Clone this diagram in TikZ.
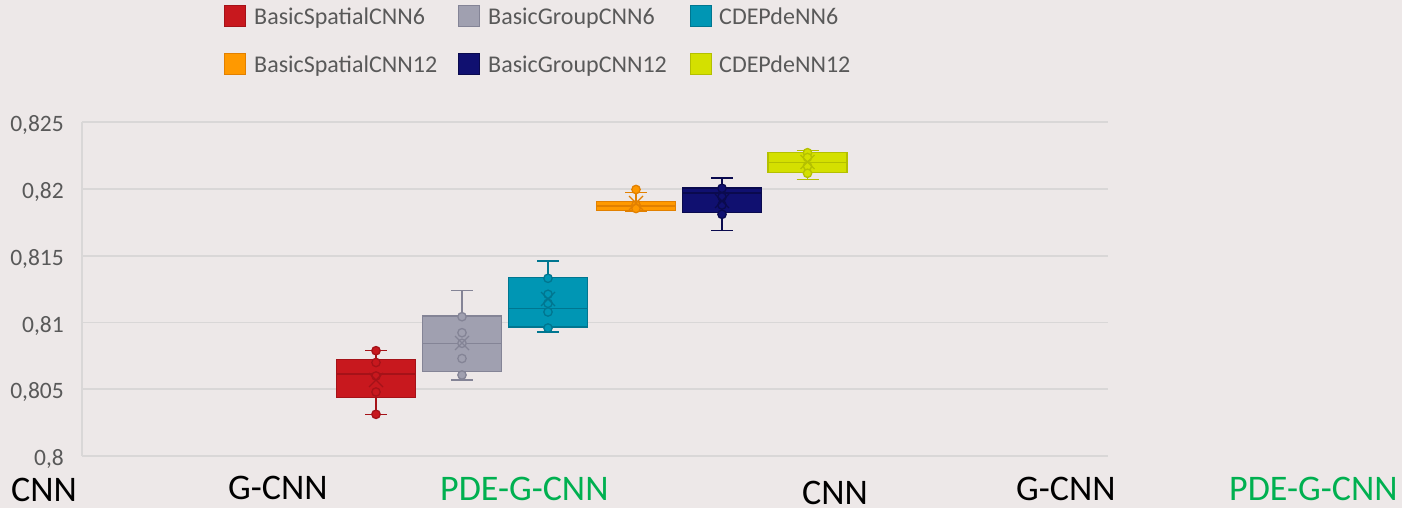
\documentclass[tikz,border=0pt]{standalone}
\usepackage{fontspec}
\setmainfont{Carlito}
\definecolor{bg}{RGB}{237,232,232}
\definecolor{gridc}{RGB}{217,215,215}
\definecolor{labc}{RGB}{89,89,89}
\definecolor{greenlab}{RGB}{0,176,80}
\definecolor{redF}{RGB}{200,24,30}
\definecolor{redD}{RGB}{165,18,24}
\definecolor{grayF}{RGB}{160,160,176}
\definecolor{grayD}{RGB}{132,132,150}
\definecolor{tealF}{RGB}{0,150,180}
\definecolor{tealD}{RGB}{0,118,144}
\definecolor{orF}{RGB}{255,153,0}
\definecolor{orD}{RGB}{226,128,0}
\definecolor{navyF}{RGB}{16,16,112}
\definecolor{navyD}{RGB}{10,10,78}
\definecolor{yelF}{RGB}{212,224,0}
\definecolor{yelD}{RGB}{180,192,0}
% box plot: centre x, box top, box bottom, median, upper cap, lower cap, colour prefix, mean, points
\newcommand\bxp[9]{%
  \draw[#7D, line width=1.5] (#1,#5) -- (#1,#2) (#1,#3) -- (#1,#6)
       (#1-11,#5) -- (#1+11,#5) (#1-11,#6) -- (#1+11,#6);
  \filldraw[fill=#7F, draw=#7D, line width=1.5] (#1-39.5,#2) rectangle (#1+39.5,#3);
  \draw[#7D, line width=1.5] (#1-39.5,#4) -- (#1+39.5,#4);
  \foreach \p in {#9} \filldraw[fill=#7F, draw=#7D, line width=1.3] (#1,\p) circle[radius=4.2];
  \draw[#7D, line width=1.3] (#1-7,#8-7) -- (#1+7,#8+7) (#1-7,#8+7) -- (#1+7,#8-7);
}
\tikzset{
  grid/.style={gridc, line width=1.5},
  ylab/.style={anchor=base east, inner sep=0, text=labc, font=\fontsize{23.5}{23.5}\selectfont},
  legtext/.style={anchor=base west, inner sep=0, text=labc, font=\fontsize{24}{24}\selectfont},
  legsq/.style={line width=1},
  cat/.style={anchor=base west, inner sep=0, font=\fontsize{36}{36}\selectfont},
}
\begin{document}
\begin{tikzpicture}[x=1pt, y=-1pt]
\fill[bg] (0,0) rectangle (1402,508);
\useasboundingbox (0,0) rectangle (1402,508);

% grid and axis
\foreach \y in {122,189,256,322.5,389,456} \draw[grid] (82,\y) -- (1108,\y);
\draw[grid] (82,122) -- (82,456);

% y-axis labels
\node[ylab] (y825) at (64,131.5) {0,825};
\node[ylab] (y820) at (64,198.5) {0,82};
\node[ylab] (y815) at (64,265.5) {0,815};
\node[ylab] (y810) at (64,332) {0,81};
\node[ylab] (y805) at (64,398.5) {0,805};
\node[ylab] (y800) at (64,465.5) {0,8};

% box plots
\bxp{376}{359.5}{397.5}{374}{350.7}{414.3}{red}{380}{350.7,362.5,376,392,414.3}
\bxp{462}{316}{371.7}{343.3}{290.7}{380}{gray}{343}{316.7,332.7,343.3,358.5,375}
\bxp{548}{277.7}{327}{308.3}{261}{332}{teal}{299}{278.3,294.3,303.3,312,328}
\bxp{636}{201.7}{210.5}{205.8}{192.5}{211}{or}{203}{189.5,205,208.5}
\bxp{722}{187.8}{212.3}{193}{177.8}{230.7}{navy}{201}{188.3,197,205,214.3}
\bxp{807.5}{152.3}{172.3}{162.3}{150.5}{179.3}{yel}{162}{152.7,157.5,166,173.3}

% legend
\filldraw[legsq, fill=redF, draw=redD] (224.5,6) rectangle (245.5,27);
\node[legtext] (l1) at (254,25) {BasicSpatialCNN6};
\filldraw[legsq, fill=grayF, draw=grayD] (458,6) rectangle (479,27);
\node[legtext] (l2) at (488,25) {BasicGroupCNN6};
\filldraw[legsq, fill=tealF, draw=tealD] (690,6) rectangle (711,27);
\node[legtext] (l3) at (719,25) {CDEPdeNN6};
\filldraw[legsq, fill=orF, draw=orD] (224.5,54) rectangle (245.5,75);
\node[legtext] (l4) at (254,73) {BasicSpatialCNN12};
\filldraw[legsq, fill=navyF, draw=navyD] (458,54) rectangle (479,75);
\node[legtext] (l5) at (488,73) {BasicGroupCNN12};
\filldraw[legsq, fill=yelF, draw=yelD] (690,54) rectangle (711,75);
\node[legtext] (l6) at (719,73) {CDEPdeNN12};

% category labels
\node[cat] (c1) at (11,501) {CNN};
\node[cat] (c2) at (228,499) {G-CNN};
\node[cat, text=greenlab] (c3) at (440,500) {PDE-G-CNN};
\node[cat] (c4) at (802,504) {CNN};
\node[cat] (c5) at (1016,500) {G-CNN};
\node[cat, text=greenlab] (c6) at (1229,500) {PDE-G-CNN};
\end{tikzpicture}
\end{document}
